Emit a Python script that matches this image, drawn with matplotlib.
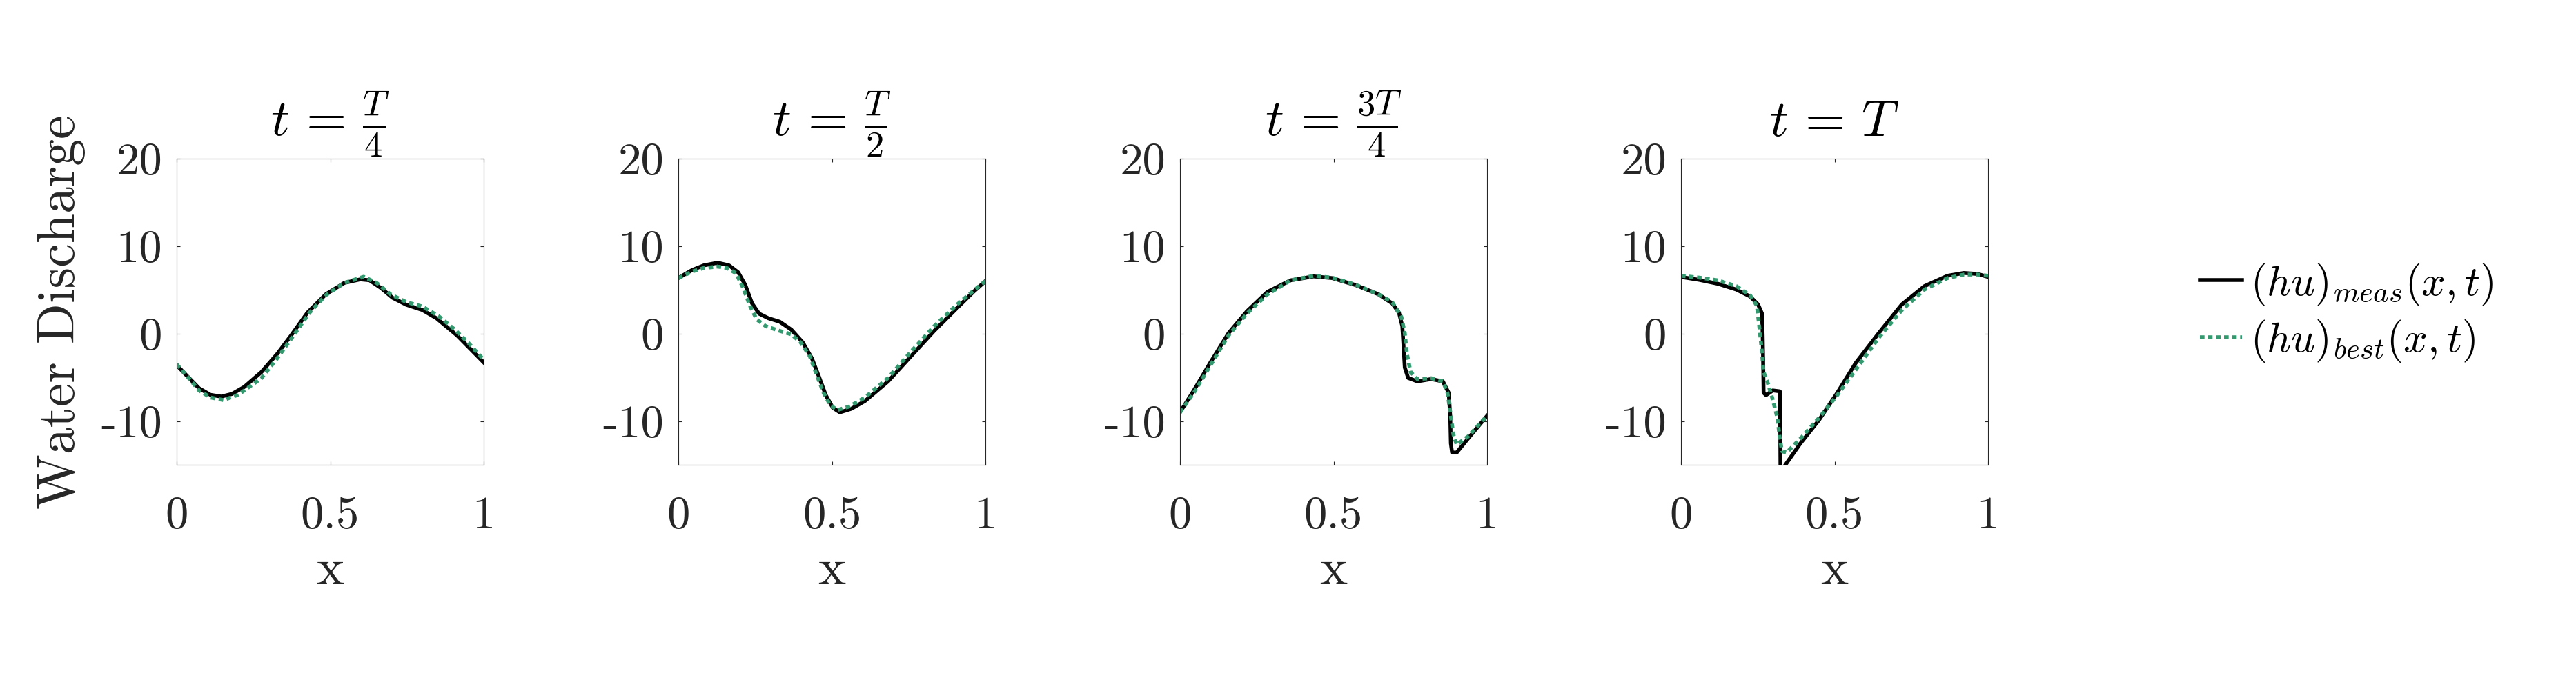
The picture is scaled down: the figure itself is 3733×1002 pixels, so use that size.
import matplotlib
matplotlib.use("Agg")
import matplotlib.pyplot as plt
from matplotlib.lines import Line2D

plt.rcParams['mathtext.fontset'] = 'cm'
plt.rcParams['font.family'] = ['cmr10', 'DejaVu Serif']
plt.rcParams['axes.unicode_minus'] = False
plt.rcParams['axes.formatter.use_mathtext'] = True

# ---------------- data ----------------
titles = [r'$t\,=\,\frac{T}{4}$', r'$t\,=\,\frac{T}{2}$', r'$t\,=\,\frac{3T}{4}$', r'$t\,=\,T$']
series_labels = [r'$(hu)_{meas}(x,t)$', r'$(hu)_{best}(x,t)$']
x_ticks = [0, 0.5, 1]
x_tick_labels = ['0', '0.5', '1']
y_ticks = [-10, 0, 10, 20]
y_tick_labels = ['-10', '0', '10', '20']
x_label = 'x'
y_label = 'Water Discharge'

# t = T/4
x_meas_1 = [0.0, 0.03, 0.073, 0.11, 0.145, 0.18, 0.22, 0.276, 0.328, 0.373, 0.426, 0.486, 0.546,
            0.598, 0.628, 0.666, 0.703, 0.748, 0.80, 0.846, 0.913, 0.958, 1.0]
y_meas_1 = [-3.6, -4.7, -6.25, -7.0, -7.2, -6.9, -6.1, -4.4, -2.3, -0.2, 2.4, 4.5, 5.8,
            6.2, 6.1, 5.2, 4.1, 3.3, 2.7, 1.76, -0.2, -1.8, -3.3]
x_best_1 = [0.0, 0.03, 0.073, 0.11, 0.152, 0.20, 0.276, 0.328, 0.381, 0.433, 0.486, 0.546, 0.609,
            0.651, 0.696, 0.748, 0.80, 0.853, 0.906, 0.951, 1.0]
y_best_1 = [-3.5, -4.7, -6.5, -7.3, -7.6, -7.0, -5.1, -2.8, -0.2, 2.4, 4.4, 5.8, 6.5,
            5.8, 4.5, 3.6, 3.1, 2.0, 0.45, -1.1, -3.0]

# t = T/2
x_meas_2 = [0.0, 0.045, 0.083, 0.128, 0.165, 0.195, 0.218, 0.240, 0.263, 0.293, 0.330, 0.368, 0.405,
            0.435, 0.458, 0.480, 0.503, 0.526, 0.563, 0.608, 0.683, 0.758, 0.833, 0.908, 0.961, 1.0]
y_meas_2 = [6.35, 7.27, 7.8, 8.1, 7.8, 7.0, 5.56, 3.46, 2.28, 1.76, 1.36, 0.45, -1.0,
            -2.83, -4.93, -7.03, -8.48, -9.0, -8.6, -7.7, -5.46, -2.57, 0.31, 2.94, 4.78, 6.0]
x_best_2 = [0.0, 0.045, 0.083, 0.128, 0.158, 0.188, 0.21, 0.233, 0.255, 0.285, 0.33, 0.368, 0.398,
            0.428, 0.45, 0.473, 0.495, 0.518, 0.556, 0.608, 0.683, 0.758, 0.833, 0.908, 0.961, 1.0]
y_best_2 = [6.35, 7.1, 7.5, 7.66, 7.5, 6.9, 5.3, 3.2, 1.63, 0.84, 0.31, -0.08, -1.0,
            -2.57, -4.67, -6.77, -8.2, -8.74, -8.35, -7.3, -5.07, -2.05, 0.84, 3.33, 4.9, 6.0]

# t = 3T/4
x_meas_3 = [0.0, 0.045, 0.098, 0.158, 0.218, 0.285, 0.36, 0.435, 0.495, 0.571, 0.646, 0.691, 0.713,
            0.724, 0.728, 0.732, 0.743, 0.773, 0.818, 0.856, 0.875, 0.880, 0.882, 0.886, 0.901, 0.938, 1.0]
y_meas_3 = [-9.0, -6.5, -3.36, 0.05, 2.55, 4.78, 6.09, 6.54, 6.35, 5.56, 4.5, 3.46, 2.4,
            0.84, -1.52, -3.88, -5.07, -5.46, -5.2, -5.46, -6.77, -9.4, -12.55, -13.6, -13.6, -12.0, -9.4]
x_best_3 = [0.0, 0.045, 0.098, 0.158, 0.218, 0.285, 0.36, 0.435, 0.495, 0.571, 0.646, 0.691, 0.721,
            0.732, 0.739, 0.751, 0.773, 0.818, 0.856, 0.871, 0.882, 0.890, 0.901, 0.938, 1.0]
y_best_3 = [-9.0, -6.77, -3.7, -0.2, 2.3, 4.5, 6.09, 6.6, 6.4, 5.6, 4.5, 3.6, 1.9,
            0.05, -2.3, -4.4, -5.2, -5.1, -5.46, -6.77, -9.4, -11.5, -12.7, -11.76, -9.4]

# t = T
x_meas_4 = [0.0, 0.06, 0.12, 0.18, 0.225, 0.251, 0.264, 0.266, 0.268, 0.269, 0.277, 0.299, 0.322,
            0.323, 0.324, 0.34, 0.389, 0.449, 0.509, 0.569, 0.644, 0.719, 0.793, 0.868, 0.921, 0.966, 1.0]
y_meas_4 = [6.48, 6.14, 5.7, 5.04, 4.25, 3.33, 2.28, -0.2, -4.15, -6.77, -7.03, -6.5, -6.6,
            -9.4, -16.0, -15.0, -12.55, -9.9, -6.77, -3.36, 0.05, 3.33, 5.43, 6.61, 6.93, 6.82, 6.48]
x_best_4 = [0.0, 0.06, 0.12, 0.18, 0.225, 0.247, 0.254, 0.262, 0.269, 0.281, 0.299, 0.314, 0.322,
            0.329, 0.344, 0.389, 0.449, 0.509, 0.569, 0.644, 0.719, 0.793, 0.868, 0.921, 0.966, 1.0]
y_best_4 = [6.61, 6.4, 6.09, 5.43, 4.38, 3.2, 1.1, -1.52, -4.4, -5.46, -7.56, -9.66, -12.0,
            -13.45, -13.6, -12.0, -9.66, -7.03, -4.15, -0.47, 2.68, 5.04, 6.35, 6.75, 6.75, 6.61]

panels = [
    (x_meas_1, y_meas_1, x_best_1, y_best_1),
    (x_meas_2, y_meas_2, x_best_2, y_best_2),
    (x_meas_3, y_meas_3, x_best_3, y_best_3),
    (x_meas_4, y_meas_4, x_best_4, y_best_4),
]

# ---------------- figure ----------------
W, H, DPI = 3733, 1002, 100
fig = plt.figure(figsize=(W / DPI, H / DPI), dpi=DPI)

meas_color = 'black'
best_color = '#33996F'
lw = 4.0
best_dash = (0, (1.2, 0.9))
ax_color = '#262626'

lefts_px = [256, 983, 1710, 2436]
ax_w_px, ax_h_px = 445, 444
ax_bottom_px = 674

for i, (xm, ym, xb, yb) in enumerate(panels):
    ax = fig.add_axes([lefts_px[i] / W, (H - ax_bottom_px) / H, ax_w_px / W, ax_h_px / H])
    ax.plot(xm, ym, color=meas_color, lw=lw, solid_joinstyle='round')
    ax.plot(xb, yb, color=best_color, lw=lw, linestyle=best_dash)
    ax.set_xlim(0, 1)
    ax.set_ylim(-15, 20)
    ax.set_xticks(x_ticks, labels=x_tick_labels)
    ax.set_yticks(y_ticks, labels=y_tick_labels)
    ax.tick_params(direction='in', length=3.8, width=0.8, top=True, right=True,
                   colors=ax_color, labelsize=48)
    ax.tick_params(axis='x', pad=33)
    ax.tick_params(axis='y', pad=15)
    for s in ax.spines.values():
        s.set_linewidth(0.8)
        s.set_color(ax_color)
    ax.set_title(titles[i], fontsize=54, pad=24, color='black')
    ax.set_xlabel(x_label, fontsize=55, color=ax_color, va='baseline')
    ax.xaxis.set_label_coords(0.5, (ax_bottom_px - 847) / ax_h_px)
    if i == 0:
        ax.set_ylabel(y_label, fontsize=56, color=ax_color, va='baseline')
        ax.yaxis.set_label_coords((108 - lefts_px[0]) / ax_w_px, 0.5)

handles = [Line2D([], [], color=meas_color, lw=lw),
           Line2D([], [], color=best_color, lw=lw, linestyle=best_dash)]
fig.legend(handles, series_labels, loc='center left',
           bbox_to_anchor=(3188 / W, 1 - 453.5 / H), frameon=False, fontsize=44,
           handlelength=1.0, handletextpad=0.2, borderpad=0, borderaxespad=0,
           labelspacing=0.25)

fig.savefig('out.png', dpi=DPI, facecolor='white')
